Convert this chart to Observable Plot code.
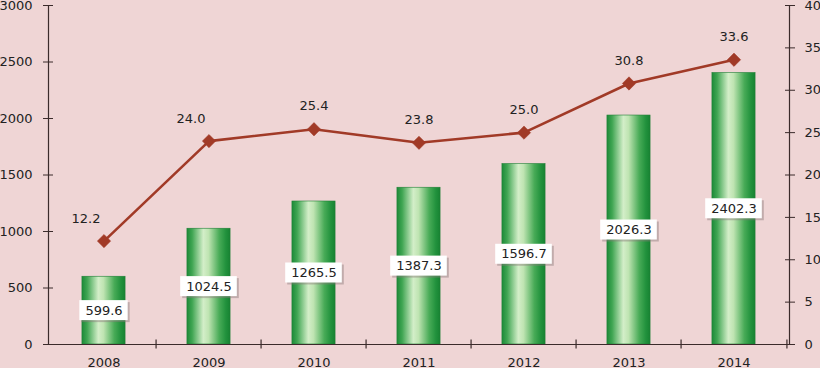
<!DOCTYPE html>
<html>
<head>
<meta charset="utf-8">
<script src="https://cdn.jsdelivr.net/npm/d3@7"></script>
<script src="https://cdn.jsdelivr.net/npm/@observablehq/plot@0.6"></script>
<style>
  html, body { margin: 0; padding: 0; background: #efd5d5; }
  #chart svg { display: block; }
</style>
</head>
<body>
<div id="chart"></div>
<script>
const years = ["2008", "2009", "2010", "2011", "2012", "2013", "2014"];
const amounts = [599.6, 1024.5, 1265.5, 1387.3, 1596.7, 2026.3, 2402.3];
const shares = [12.2, 24.0, 25.4, 23.8, 25.0, 30.8, 33.6];
const leftTicks = [0, 500, 1000, 1500, 2000, 2500, 3000];
const rightTicks = [0, 5, 10, 15, 20, 25, 30, 35, 40];

const leftMax = 3000, rightMax = 40;
const ratio = leftMax / rightMax;

const data = years.map((year, i) => ({
  year, amount: amounts[i], share: shares[i], i,
  amountLabel: amounts[i].toFixed(1), shareLabel: shares[i].toFixed(1)
}));

const W = 820, H = 368;
const mL = 48, mR = 31, mT = 5, mB = 24;
const bw = (W - mL - mR) / years.length;
const barW = 44;
const font = 13;
const digitW = 0.636 * font, dotW = 0.318 * font;
const textW = s => [...s].reduce((a, c) => a + (c === "." ? dotW : digitW), 0);

const axisColor = "#3b2b2b";
const lineColor = "#a13a27";
const textColor = "#222";

// defs for bar gradient
const defs = () => {
  const g = d3.create("svg:defs");
  const lg = g.append("linearGradient").attr("id", "barGrad")
    .attr("x1", "0%").attr("x2", "100%").attr("y1", "0%").attr("y2", "0%");
  [[0, "#1c8a38"], [0.12, "#3fa552"], [0.38, "#d3eec8"], [0.5, "#bfe4b2"],
   [0.75, "#48ab57"], [0.9, "#22923d"], [1, "#178232"]]
    .forEach(([o, c]) => lg.append("stop").attr("offset", o).attr("stop-color", c));
  return g.node();
};

// value label boxes grouped by label width
const boxMarks = [];
const widths = Array.from(new Set(data.map(d => d.amountLabel.length)));
widths.forEach(len => {
  const sub = data.filter(d => d.amountLabel.length === len);
  const bwBox = textW(sub[0].amountLabel) + 12;
  const inset = (bw - bwBox) / 2;
  const common = {x: "year", y1: d => d.amount / 2, y2: d => d.amount / 2,
    insetLeft: inset, insetRight: inset, insetTop: -10, insetBottom: -10};
  boxMarks.push(Plot.barY(sub, {...common, fill: "#8a7a7a", fillOpacity: 0.45, dx: 2, dy: 2}));
  boxMarks.push(Plot.barY(sub, {...common, fill: "white"}));
});

const chart = Plot.plot({
  width: W, height: H,
  marginLeft: mL, marginRight: mR, marginTop: mT, marginBottom: mB,
  style: {background: "#efd5d5", fontFamily: "DejaVu Sans", fontSize: font + "px", color: textColor, overflow: "visible"},
  x: {domain: years, padding: 0, label: null},
  y: {domain: [0, leftMax], label: null},
  marks: [
    defs,
    Plot.barY(data, {x: "year", y: "amount", fill: "url(#barGrad)",
      insetLeft: (bw - barW) / 2, insetRight: (bw - barW) / 2,
      stroke: "#1f7f35", strokeWidth: 0.6}),
    ...boxMarks,
    Plot.text(data, {x: "year", y: d => d.amount / 2, text: "amountLabel", fill: textColor}),
    Plot.line(data, {x: "year", y: d => d.share * ratio, stroke: lineColor, strokeWidth: 2.6}),
    Plot.dot(data, {x: "year", y: d => d.share * ratio, symbol: "diamond2", r: 6, fill: lineColor, stroke: lineColor, strokeWidth: 0.5}),
    Plot.text(data.filter(d => d.i < 2), {x: "year", y: d => d.share * ratio, text: "shareLabel", dx: -18, dy: -22, fill: textColor}),
    Plot.text(data.filter(d => d.i >= 2), {x: "year", y: d => d.share * ratio, text: "shareLabel", dy: -23, fill: textColor}),
    // axis frames
    Plot.frame({anchor: "left", stroke: axisColor, strokeWidth: 1.2}),
    Plot.frame({anchor: "right", stroke: axisColor, strokeWidth: 1.2}),
    Plot.frame({anchor: "bottom", stroke: axisColor, strokeWidth: 1.2}),
    // left axis
    Plot.axisY(leftTicks, {anchor: "left", tickSize: 5, tickPadding: 11, tickFormat: d => String(d), stroke: axisColor, fill: textColor, label: null}),
    Plot.axisY(leftTicks, {anchor: "left", tickSize: 5, dx: 5, tickFormat: () => "", stroke: axisColor, label: null}),
    // right axis
    Plot.axisY(rightTicks.map(t => t * ratio), {anchor: "right", tickSize: 5, tickPadding: 10, tickFormat: d => String(d / ratio), stroke: axisColor, fill: textColor, label: null}),
    Plot.axisY(rightTicks.map(t => t * ratio), {anchor: "right", tickSize: 5, dx: -5, tickFormat: () => "", stroke: axisColor, label: null}),
    // x axis
    Plot.axisX({tickSize: 0, tickPadding: 13, fill: textColor, label: null}),
    Plot.ruleX(years.slice(1), {x: d => d, dx: -bw / 2, y1: -40, y2: 40, stroke: axisColor, strokeWidth: 1.2}),
    Plot.ruleX(years.slice(-1), {x: d => d, dx: bw / 2, y1: -40, y2: 40, stroke: axisColor, strokeWidth: 1.2})
  ]
});
document.getElementById("chart").appendChild(chart);
</script>
</body>
</html>
